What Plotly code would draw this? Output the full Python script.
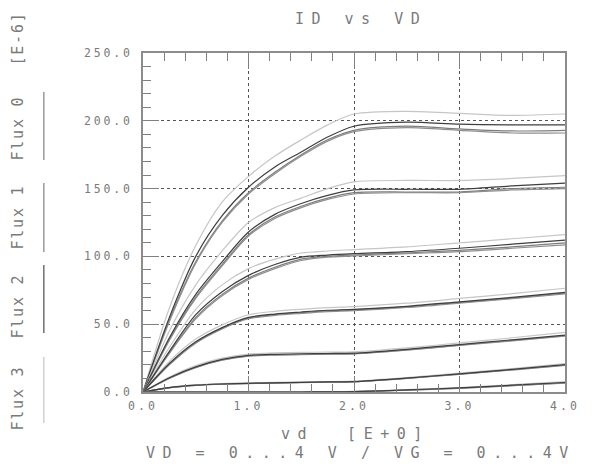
import plotly.graph_objects as go

# ---------------- data ----------------
vd = [0.0, 0.25, 0.5, 0.75, 1.0, 1.25, 1.5, 1.75, 2.0, 2.5, 3.0, 3.5, 4.0]

flux_names = ["Flux 0", "Flux 1", "Flux 2", "Flux 3"]

# drain current [E-6 A], one list per flux corner, for each gate-voltage step
id_family1 = [
    [0, 53, 96, 126, 147, 162, 175, 186, 193, 196, 194, 192.5, 193],
    [0, 52, 95, 125, 146, 161, 174, 185, 192, 195, 193, 191, 191],
    [0, 55, 100, 130, 151, 166, 177, 188, 196, 199, 197.5, 197, 197],
    [0, 62, 108, 140, 159, 174, 186, 197, 205, 207, 205.5, 204, 205],
]
id_family2 = [
    [0, 39, 70, 94, 116, 129, 137, 143, 147, 147.5, 147.5, 150, 151],
    [0, 38, 69, 93, 115, 128, 136, 142, 146, 147, 147, 149, 150],
    [0, 40, 72, 96, 118, 131, 139, 145, 149, 149.5, 149.5, 152, 154],
    [0, 45, 79, 104, 125, 136, 143, 150, 155, 156, 156, 157.5, 159.5],
]
id_family3 = [
    [0, 29, 55, 72, 84, 92, 98, 100, 101, 102.5, 104.5, 107, 110],
    [0, 28.5, 54, 71, 83, 91, 97, 99.5, 100.3, 102, 103.5, 106, 108.5],
    [0, 30, 57, 74, 86, 94, 99.5, 101, 102, 103.5, 106, 109, 112],
    [0, 33, 61, 79, 91, 98, 102.5, 104, 105, 107, 110, 113, 116],
]
id_family4 = [
    [0, 20.5, 36.5, 47, 54.5, 57, 58.5, 59.8, 60.5, 62.8, 66, 69.3, 73],
    [0, 20, 36, 46.5, 54, 56.5, 58, 59.3, 60, 62.3, 65.5, 68.8, 72.3],
    [0, 21, 37, 47.5, 55, 57.5, 59, 60.3, 61, 63.2, 66.5, 69.8, 73.5],
    [0, 22.5, 39, 49.5, 57, 59.5, 61, 62.2, 63, 65.5, 69, 72.5, 76.5],
]
id_family5 = [
    [0, 10.2, 18.2, 23.6, 26.6, 27.4, 27.8, 28.0, 28.2, 31.0, 34.6, 38.0, 41.5],
    [0, 10.0, 18.0, 23.4, 26.4, 27.2, 27.6, 27.8, 28.0, 30.8, 34.3, 37.7, 41.2],
    [0, 10.5, 18.5, 24, 27, 27.8, 28.2, 28.4, 28.6, 31.5, 35, 38.5, 42],
    [0, 11, 19.5, 25, 28, 28.8, 29.2, 29.4, 29.6, 32.5, 36.2, 40, 44],
]
id_family6 = [
    [0, 3.2, 4.9, 5.8, 6.3, 6.7, 7.0, 7.3, 7.6, 10.1, 13.2, 16.4, 19.8],
    [0, 3.1, 4.8, 5.7, 6.2, 6.6, 6.9, 7.2, 7.5, 10.0, 13.0, 16.2, 19.6],
    [0, 3.3, 5.0, 5.9, 6.4, 6.8, 7.1, 7.4, 7.7, 10.3, 13.4, 16.7, 20.2],
    [0, 3.5, 5.3, 6.2, 6.7, 7.1, 7.4, 7.7, 8.0, 10.7, 13.9, 17.3, 21.0],
]
id_family7 = [
    [0, 0, 0, 0, 0, 0, 0, 0.1, 0.3, 1.4, 2.8, 4.7, 6.7],
    [0, 0, 0, 0, 0, 0, 0, 0.1, 0.3, 1.3, 2.7, 4.6, 6.5],
    [0, 0, 0, 0, 0, 0, 0, 0.1, 0.3, 1.5, 3.0, 5.0, 7.0],
    [0, 0, 0, 0, 0, 0, 0, 0.1, 0.4, 1.7, 3.3, 5.4, 7.6],
]
families = [id_family1, id_family2, id_family3, id_family4,
            id_family5, id_family6, id_family7]

x_tickvals = [0, 1, 2, 3, 4]
x_ticktext = ["0.0", "1.0", "2.0", "3.0", "4.0"]
y_tickvals = [0, 50, 100, 150, 200, 250]
y_ticktext = ["0.0", "50.0", "100.0", "150.0", "200.0", "250.0"]

title_text = "ID vs VD"
xaxis_text = "vd  [E+0]"
sweep_text = "VD = 0...4 V / VG = 0...4V"
yunit_text = "[E-6]"

# ---------------- style ----------------
FONT = "DejaVu Sans Mono"
TXT = "#7a7a7a"
flux_colors = ["#7c7c7c", "#8e8e8e", "#3e3e3e", "#c6c6c6"]
legend_colors = ["#9a9a9a", "#9a9a9a", "#707070", "#cfcfcf"]
draw_order = [3, 0, 1, 2]


def spaced(s, px):
    return '<span style="letter-spacing:%spx">%s</span>' % (px, s)


fig = go.Figure()
for fam in families:
    for k in draw_order:
        fig.add_trace(go.Scatter(
            x=vd, y=fam[k], mode="lines", name=flux_names[k],
            line=dict(color=flux_colors[k], width=1.2, shape="spline", smoothing=0.8),
            showlegend=False, hoverinfo="skip"))

# page body has an 8px default margin: size the figure so that the
# plot area lands at page pixels x 143..577, y 53..392
OFF = 8
W, H = 592 - OFF, 464 - OFF
L, R, T, B = 143 - OFF, 15, 53 - OFF, 72
pw, ph = W - L - R, H - T - B


def px(xpage):
    return (xpage - OFF - L) / pw


def py(ypage):
    return (H - B - (ypage - OFF)) / ph


axis_common = dict(
    ticks="inside", ticklen=16, tickwidth=1, tickcolor="#808080",
    showline=True, linecolor="#8c8c8c", linewidth=2,
    showgrid=True, gridcolor="#555555", gridwidth=1, griddash="dot",
    zeroline=False,
    tickfont=dict(family=FONT, size=11.5, color=TXT),
)

fig.update_xaxes(
    range=[0, 4], tickmode="array", tickvals=x_tickvals,
    ticktext=[spaced(t, 3) for t in x_ticktext],
    mirror="ticks", ticklabelstandoff=2,
    minor=dict(ticks="inside", ticklen=8, tickcolor="#808080", dtick=0.2, showgrid=False),
    **axis_common)
fig.update_yaxes(
    range=[0, 250], tickmode="array", tickvals=y_tickvals,
    ticktext=[spaced(t, 2.8) for t in y_ticktext],
    mirror=True, ticklabelstandoff=6,
    minor=dict(ticks="inside", ticklen=8, tickcolor="#808080", dtick=10, showgrid=False),
    **axis_common)

ann = []
big = dict(family=FONT, size=15, color=TXT)
ann.append(dict(text=spaced(title_text, 7.5), x=px(367), y=py(19), xref="paper", yref="paper",
                showarrow=False, xanchor="center", yanchor="middle", font=big))
ann.append(dict(text=spaced(xaxis_text, 7.5), x=px(362), y=py(434), xref="paper", yref="paper",
                showarrow=False, xanchor="center", yanchor="middle", font=big))
ann.append(dict(text=spaced(sweep_text, 7.5), x=px(367), y=py(453), xref="paper", yref="paper",
                showarrow=False, xanchor="center", yanchor="middle", font=big))

side = dict(family=FONT, size=15, color=TXT)
ann.append(dict(text=spaced(yunit_text, 1.8), x=px(14), y=py(39), xref="paper", yref="paper",
                showarrow=False, textangle=-90, xanchor="center", yanchor="middle", font=side))
flux_label_y = [128, 217, 306, 398]
flux_line_y = [(92, 160), (183, 252), (265, 333), (357, 423)]
shapes = []
for k in range(4):
    ann.append(dict(text=spaced(flux_names[k], 1.8), x=px(14), y=py(flux_label_y[k]),
                    xref="paper", yref="paper", showarrow=False, textangle=-90,
                    xanchor="center", yanchor="middle", font=side))
    y0, y1 = flux_line_y[k]
    shapes.append(dict(type="line", xref="paper", yref="paper",
                       x0=px(41), x1=px(41), y0=py(y0), y1=py(y1),
                       line=dict(color=legend_colors[k], width=1.5)))

fig.update_layout(
    width=W, height=H,
    margin=dict(l=L, r=R, t=T, b=B, pad=0),
    paper_bgcolor="white", plot_bgcolor="white",
    annotations=ann, shapes=shapes,
    showlegend=False,
)

fig.write_html("out.html")
